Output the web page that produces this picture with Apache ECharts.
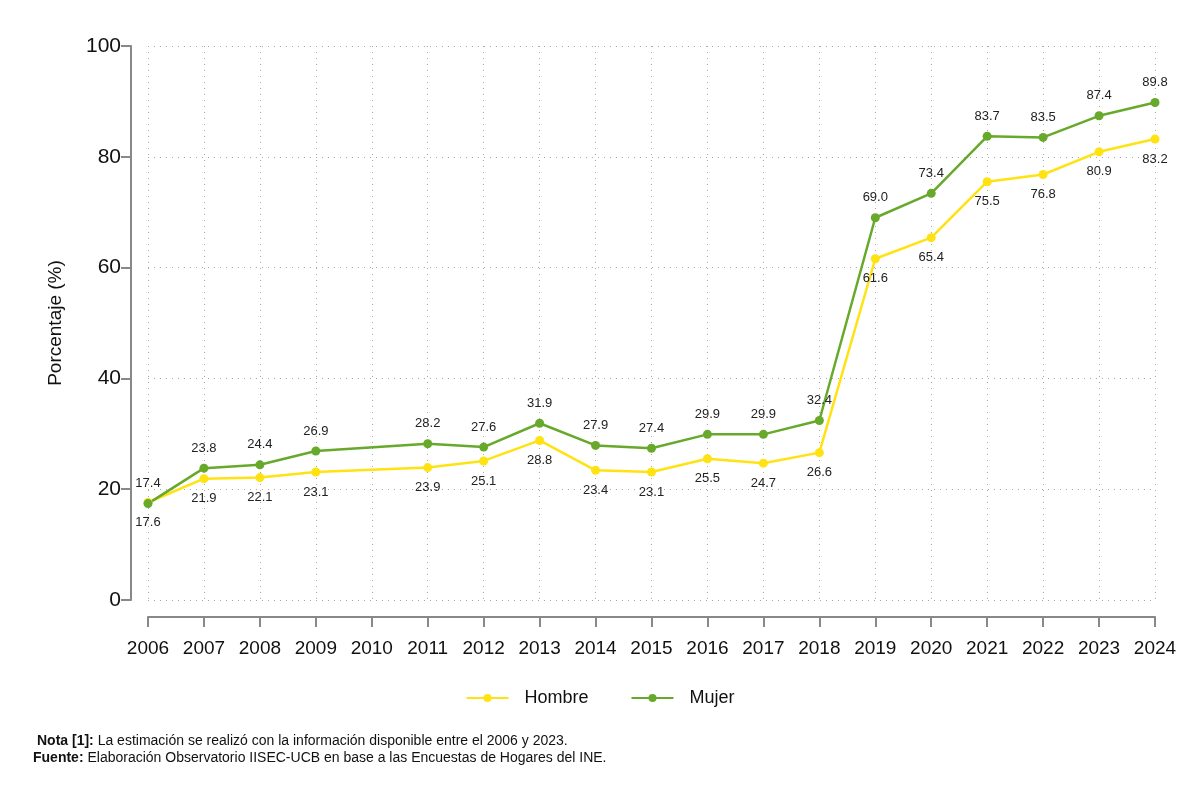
<!DOCTYPE html>
<html>
	<head>
		<meta charset="utf-8">
		<script src="https://cdn.jsdelivr.net/npm/echarts@6/dist/echarts.min.js"></script>
		<title>Porcentaje por sexo</title>
	</head>
	<body>
		<style>
			html,
			body,
			#main {
				width: 100%;
				height: 100%;
				margin: 0;
				background: #fff;
			}
		</style>
		<div id="main"></div>
		<script type="text/javascript">
			// datos (2010 sin dato)
			var anios = ['2006', '2007', '2008', '2009', '2010', '2011', '2012', '2013', '2014', '2015',
				'2016', '2017', '2018', '2019', '2020', '2021', '2022', '2023', '2024'];
			var hombre = [17.6, 21.9, 22.1, 23.1, null, 23.9, 25.1, 28.8, 23.4, 23.1,
				25.5, 24.7, 26.6, 61.6, 65.4, 75.5, 76.8, 80.9, 83.2];
			var mujer = [17.4, 23.8, 24.4, 26.9, null, 28.2, 27.6, 31.9, 27.9, 27.4,
				29.9, 29.9, 32.4, 69.0, 73.4, 83.7, 83.5, 87.4, 89.8];

			var fuente = "'Liberation Sans Narrow', 'Liberation Sans', Arial, sans-serif";
			var myChart = echarts.init(document.getElementById('main'));

			function etiqueta(p) {
				return p.value == null ? '' : Number(p.value).toFixed(1);
			}

			var option = {
				backgroundColor: '#fff',
				animation: false,
				grid: {
					left: 148,
					right: 45,
					top: 46,
					bottom: 201
				},
				legend: {
					bottom: 89,
					left: 'center',
					itemWidth: 42,
					itemHeight: 10,
					itemGap: 42,
					textStyle: {
						fontFamily: fuente,
						fontSize: 18,
						color: '#111',
						padding: [0, 0, 0, 11]
					},
					data: ['Hombre', 'Mujer']
				},
				xAxis: {
					type: 'category',
					data: anios,
					boundaryGap: false,
					offset: 17,
					axisLine: { onZero: false, lineStyle: { color: '#888', width: 2 } },
					axisTick: { show: true, length: 10, lineStyle: { color: '#888', width: 2 } },
					axisLabel: {
						interval: 0,
						margin: 22,
						fontFamily: fuente,
						fontSize: 19,
						color: '#111'
					},
					splitLine: {
						show: true,
						lineStyle: { color: '#a8a8a8', type: [1, 5], width: 1 }
					}
				},
				yAxis: {
					type: 'value',
					min: 0,
					max: 100,
					interval: 20,
					offset: 17,
					name: 'Porcentaje (%)',
					nameLocation: 'middle',
					nameGap: 66,
					nameTextStyle: {
						fontFamily: fuente,
						fontSize: 19,
						color: '#111'
					},
					axisLine: { show: true, lineStyle: { color: '#888', width: 2 } },
					axisTick: { show: true, length: 10, lineStyle: { color: '#888', width: 2 } },
					axisLabel: {
						margin: 10,
						fontFamily: fuente,
						fontSize: 21,
						color: '#111'
					},
					splitLine: {
						show: true,
						lineStyle: { color: '#a8a8a8', type: [1, 5], width: 1 }
					}
				},
				series: [{
					name: 'Hombre',
					type: 'line',
					data: hombre,
					connectNulls: true,
					symbol: 'circle',
					symbolSize: 9,
					color: '#FFE212',
					lineStyle: { width: 2.5 },
					label: {
						show: true,
						position: 'bottom',
						distance: 9,
						formatter: etiqueta,
						fontFamily: fuente,
						fontSize: 13,
						color: '#222'
					}
				}, {
					name: 'Mujer',
					type: 'line',
					data: mujer,
					connectNulls: true,
					symbol: 'circle',
					symbolSize: 9,
					color: '#67A92B',
					lineStyle: { width: 2.5 },
					label: {
						show: true,
						position: 'top',
						distance: 9,
						formatter: etiqueta,
						fontFamily: fuente,
						fontSize: 13,
						color: '#222'
					}
				}],
				graphic: [{
					type: 'text',
					left: 37,
					top: 734,
					style: {
						text: '{b|Nota [1]:} La estimación se realizó con la información disponible entre el 2006 y 2023.',
						font: '14px ' + fuente,
						fill: '#111',
						rich: {
							b: { fontWeight: 'bold', fontFamily: fuente, fontSize: 14, fill: '#111' }
						}
					}
				}, {
					type: 'text',
					left: 33,
					top: 751,
					style: {
						text: '{b|Fuente:} Elaboración Observatorio IISEC-UCB en base a las Encuestas de Hogares del INE.',
						font: '14px ' + fuente,
						fill: '#111',
						rich: {
							b: { fontWeight: 'bold', fontFamily: fuente, fontSize: 14, fill: '#111' }
						}
					}
				}]
			};

			myChart.setOption(option);

			window.onresize = function() {
				myChart.resize();
			}
		</script>
	</body>
</html>
